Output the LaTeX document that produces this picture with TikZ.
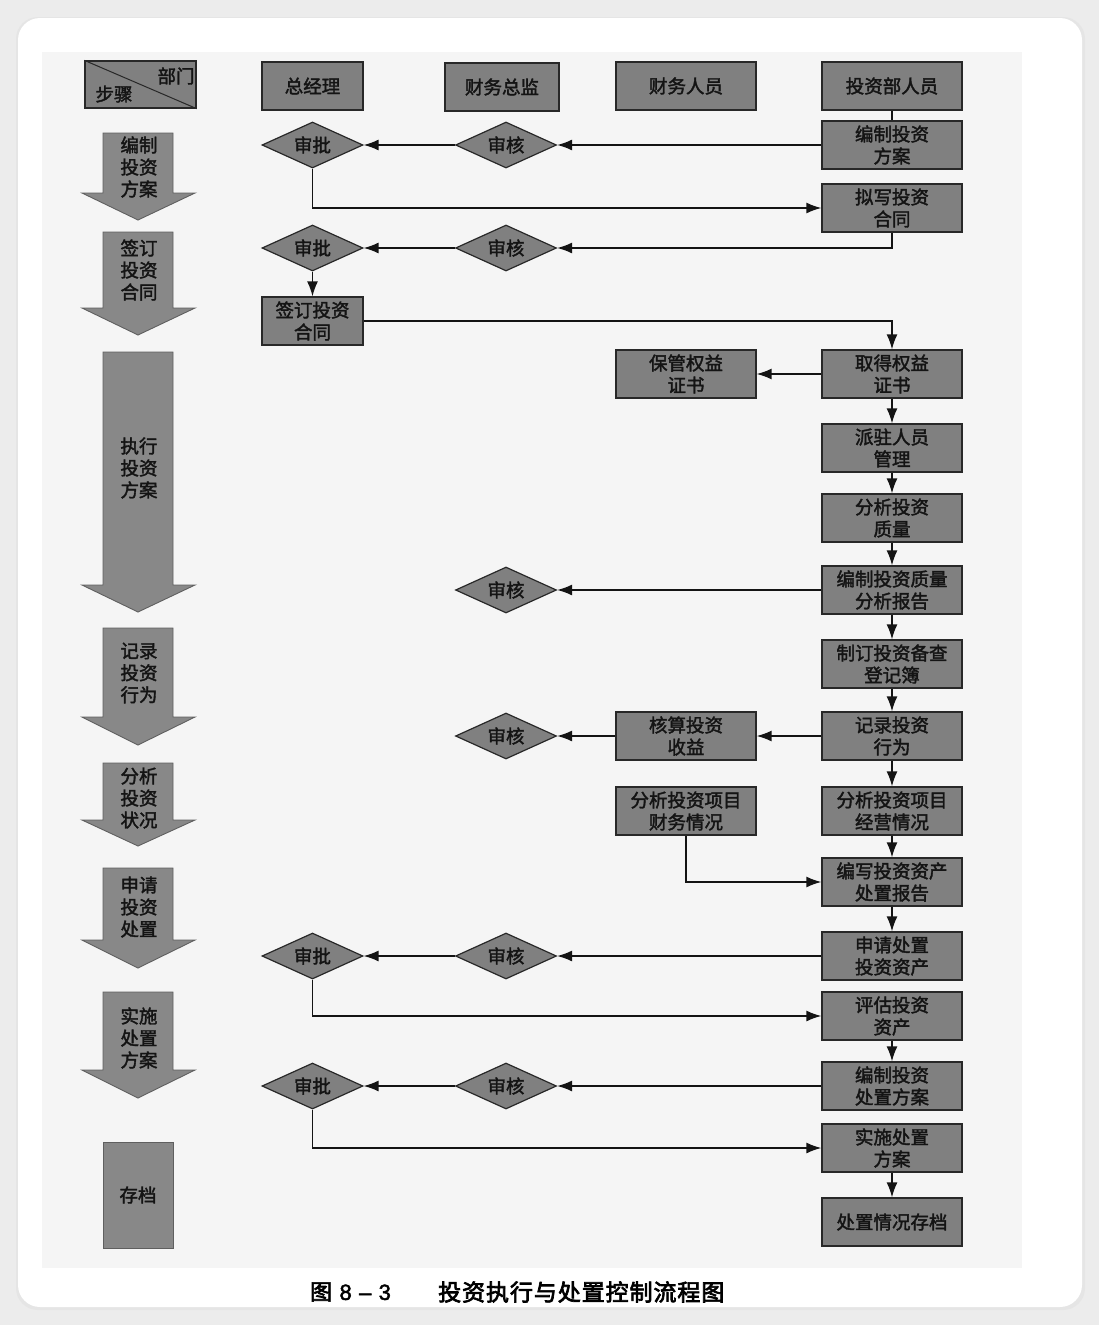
\documentclass[tikz,border=0pt]{standalone}
\usepackage{fontspec}
\usetikzlibrary{arrows.meta,shapes.geometric,calc}
\newfontfamily\cjk[FakeBold=2]{Noto Sans CJK SC}
\newfontfamily\cjkb[FakeBold=3]{Noto Sans CJK SC}
\newfontfamily\capnum[FakeBold=2]{Liberation Sans}
\definecolor{boxfill}{RGB}{128,128,128}
\definecolor{boxline}{RGB}{40,40,40}
\definecolor{arrowfill}{RGB}{136,136,136}
\definecolor{arrowline}{RGB}{95,95,95}
\definecolor{scanbg}{RGB}{245,245,245}
\definecolor{outerbg}{RGB}{236,236,236}
\definecolor{ink}{RGB}{20,20,20}
\tikzset{
  boxtext/.style={font=\cjk\fontsize{18.5}{22}\selectfont, text=ink, align=center},
  pbox/.style={boxtext, draw=boxline, line width=1.3pt, fill=boxfill, minimum height=48pt, inner sep=0pt},
  wideb/.style={pbox, minimum width=140pt},
  narrowb/.style={pbox, minimum width=101pt},
  dia/.style={boxtext, diamond, draw=boxline, line width=1.2pt, fill=boxfill, aspect=2.2, minimum width=101pt, minimum height=46pt, inner sep=0pt},
  conn/.style={draw=ink, line width=1.5pt, -{Latex[length=15pt,width=11pt]}},
  plain/.style={draw=ink, line width=1.5pt},
  bigarrow/.style={fill=arrowfill, draw=arrowline, line width=0.9pt},
  arrowtext/.style={boxtext, inner sep=0pt}
}
\begin{document}
\begin{tikzpicture}[x=1pt,y=-1pt]
\useasboundingbox (0,0) rectangle (1099,1325);
% page background and card
\fill[outerbg] (0,0) rectangle (1099,1325);
\fill[black!10, rounded corners=22pt] (16,17) rectangle (1085,1310);
\fill[white, rounded corners=22pt] (18,18) rectangle (1082,1307);
\fill[scanbg] (42,52) rectangle (1022,1268);

% header
\node[pbox, minimum width=111pt, minimum height=47pt] (hstep) at (140.5,84.5) {};
\draw[boxline, line width=1pt] (hstep.north west) -- (hstep.south east);
\node[boxtext, inner sep=0pt] (hdept) at (176,76) {部门};
\node[boxtext, inner sep=0pt] (hbuz) at (114,94) {步骤};
\node[narrowb] (h1) at (312.5,86) {总经理};
\node[pbox, minimum width=114pt] (h2) at (502,87) {财务总监};
\node[wideb] (h3) at (686,86) {财务人员};
\node[wideb] (h4) at (892,86) {投资部人员};

% investment department column
\node[wideb] (b1) at (892,145) {编制投资\\方案};
\node[wideb] (b2) at (892,208) {拟写投资\\合同};
\node[wideb] (b3) at (892,374) {取得权益\\证书};
\node[wideb] (b4) at (892,448) {派驻人员\\管理};
\node[wideb] (b5) at (892,518) {分析投资\\质量};
\node[wideb] (b6) at (892,590) {编制投资质量\\分析报告};
\node[wideb] (b7) at (892,664) {制订投资备查\\登记簿};
\node[wideb] (b8) at (892,736) {记录投资\\行为};
\node[wideb] (b9) at (892,811) {分析投资项目\\经营情况};
\node[wideb] (b10) at (892,882) {编写投资资产\\处置报告};
\node[wideb] (b11) at (892,956) {申请处置\\投资资产};
\node[wideb] (b12) at (892,1016) {评估投资\\资产};
\node[wideb] (b13) at (892,1086) {编制投资\\处置方案};
\node[wideb] (b14) at (892,1148) {实施处置\\方案};
\node[wideb] (b15) at (892,1222) {处置情况存档};

% finance staff column
\node[wideb] (f1) at (686,374) {保管权益\\证书};
\node[wideb] (f2) at (686,736) {核算投资\\收益};
\node[wideb] (f3) at (686,811) {分析投资项目\\财务情况};

% finance director diamonds
\node[dia] (s1) at (506,145) {审核};
\node[dia] (s2) at (506,248) {审核};
\node[dia] (s3) at (506,590) {审核};
\node[dia] (s4) at (506,736) {审核};
\node[dia] (s5) at (506,956) {审核};
\node[dia] (s6) at (506,1086) {审核};

% general manager
\node[dia] (p1) at (312.5,145) {审批};
\node[dia] (p2) at (312.5,248) {审批};
\node[narrowb] (g1) at (312.5,321) {签订投资\\合同};
\node[dia] (p5) at (312.5,956) {审批};
\node[dia] (p6) at (312.5,1086) {审批};

% connectors
\draw[plain] (h4.south) -- (b1.north);
\draw[conn] (b1.west) -- (s1.east);
\draw[conn] (s1.west) -- (p1.east);
\draw[conn] (p1.south) |- (b2.west);
\draw[conn] (b2.south) |- (s2.east);
\draw[conn] (s2.west) -- (p2.east);
\draw[conn] (p2.south) -- (g1.north);
\draw[conn] (g1.east) -| (b3.north);
\draw[conn] (b3.west) -- (f1.east);
\draw[conn] (b3.south) -- (b4.north);
\draw[conn] (b4.south) -- (b5.north);
\draw[conn] (b5.south) -- (b6.north);
\draw[conn] (b6.west) -- (s3.east);
\draw[conn] (b6.south) -- (b7.north);
\draw[conn] (b7.south) -- (b8.north);
\draw[conn] (b8.west) -- (f2.east);
\draw[conn] (f2.west) -- (s4.east);
\draw[conn] (b8.south) -- (b9.north);
\draw[conn] (b9.south) -- (b10.north);
\draw[conn] (f3.south) |- (b10.west);
\draw[conn] (b10.south) -- (b11.north);
\draw[conn] (b11.west) -- (s5.east);
\draw[conn] (s5.west) -- (p5.east);
\draw[conn] (p5.south) |- (b12.west);
\draw[conn] (b12.south) -- (b13.north);
\draw[conn] (b13.west) -- (s6.east);
\draw[conn] (s6.west) -- (p6.east);
\draw[conn] (p6.south) |- (b14.west);
\draw[conn] (b14.south) -- (b15.north);

% step arrows (left column)
\foreach \t/\b/\tip in {133/193/220, 232/308/335, 352/585/612, 628/717/745, 763/820/846, 868/940/968, 992/1070/1098}{
  \draw[bigarrow] (103,\t) -- (173,\t) -- (173,\b) -- (195,\b) -- (138,\tip) -- (82,\b) -- (103,\b) -- cycle;
}
\draw[bigarrow] (103,1142) rectangle (173,1248);
\node[arrowtext] (a1) at (139,167) {编制\\投资\\方案};
\node[arrowtext] (a2) at (139,270) {签订\\投资\\合同};
\node[arrowtext] (a3) at (139,468) {执行\\投资\\方案};
\node[arrowtext] (a4) at (139,673) {记录\\投资\\行为};
\node[arrowtext] (a5) at (139,798) {分析\\投资\\状况};
\node[arrowtext] (a6) at (139,907) {申请\\投资\\处置};
\node[arrowtext] (a7) at (139,1038) {实施\\处置\\方案};
\node[arrowtext] (a8) at (138,1195) {存档};

% caption
\node[font=\capnum\fontsize{22}{24}\selectfont, text=black, inner sep=0pt, anchor=west] (capn) at (310,1292) {{\cjkb 图}\,\,8\,\,–\,\,3};
\node[font=\cjkb\fontsize{23}{24}\selectfont, text=black, inner sep=0pt, anchor=west] (capt) at (438,1292) {\addfontfeature{LetterSpace=4}投资执行与处置控制流程图};
\end{tikzpicture}
\end{document}
